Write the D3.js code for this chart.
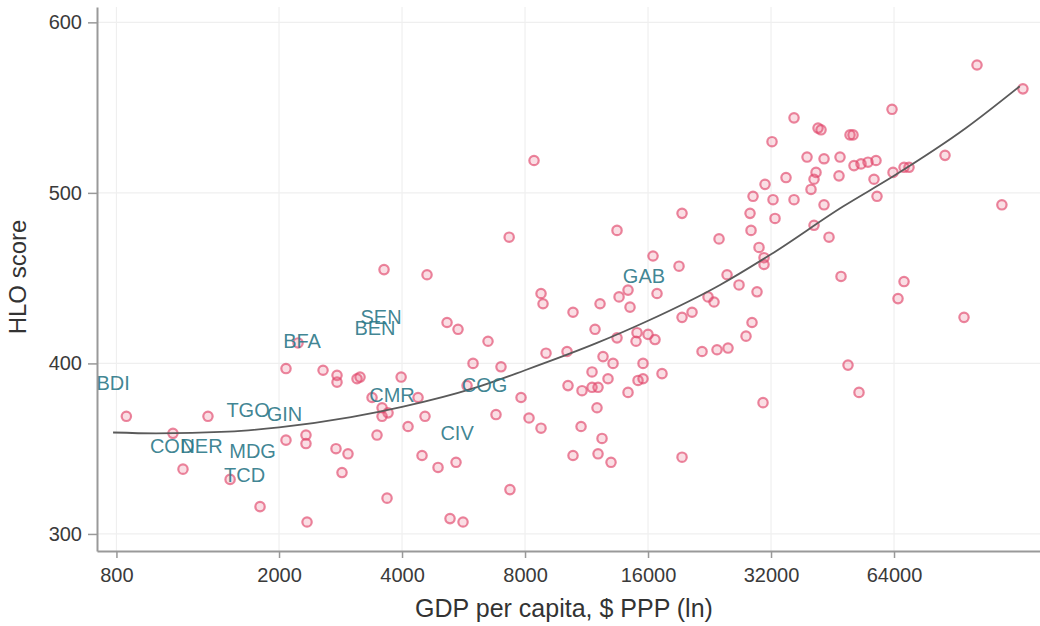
<!DOCTYPE html>
<html>
<head>
<meta charset="utf-8">
<script src="https://cdn.jsdelivr.net/npm/d3@7"></script>
<style>
body { margin: 0; background: #fff; }
text { font-family: "Liberation Sans", Arial, sans-serif; }
</style>
</head>
<body>
<div class="chart"></div>
<script>
var outerW = 1040,
	outerH = 626;

// plot region (note: "top" is taken by window.top)
var plotL = 97, plotR = 1040, plotT = 7, plotB = 551;

// GDP per capita ($ PPP) and HLO score, one entry per country
var gdp = [846, 1340, 1100, 1164, 1518, 1797, 2342, 2080, 2226, 2563,
	2773, 2773, 3104, 3157, 3980, 3378, 3574, 3697, 3574, 3474,
	4138, 4553, 4378, 2080, 2328, 2328, 2757, 2950, 2852, 3676,
	3614, 4477, 4900, 5423, 5242, 5641, 5155, 5484, 5968, 4605,
	8755, 8854, 10484, 12209, 13590, 14295, 14456, 16832, 11869, 13435,
	15038, 14954, 16000, 16643, 19380, 20504, 22436, 23208, 24976, 21694,
	23602, 25114, 6494, 6987, 9005, 10137, 12416, 13137, 11670, 12770,
	10193, 11030, 11670, 12072, 14295, 15555, 17313, 15123, 15555, 12002,
	7822, 6793, 8182, 8755, 10970, 12346, 10484, 12072, 12988, 19380,
	7348, 5770, 8416, 7316, 13435, 19380, 23873, 16457, 19055, 29908,
	30763, 30763, 26720, 29573, 28750, 27795, 30589, 47474, 67713, 65456,
	94948, 49383, 52538, 102160, 132340, 63281, 36428, 41707, 42418, 49944,
	50795, 32180, 39200, 43140, 47205, 51080, 53138, 55272, 57823, 63641,
	67713, 69646, 85310, 57173, 41237, 40772, 40089, 46940, 34822, 30936,
	28915, 32363, 36428, 43140, 58150, 117540, 28430, 32728, 28590, 40772,
	44370];

var hlo = [369, 369, 359, 338, 332, 316, 307, 397, 412, 396,
	393, 389, 391, 392, 392, 380, 374, 371, 369, 358,
	363, 369, 380, 355, 358, 353, 350, 347, 336, 321,
	455, 346, 339, 342, 309, 307, 424, 420, 400, 452,
	441, 435, 430, 435, 439, 443, 433, 441, 420, 415,
	418, 413, 417, 414, 427, 430, 439, 436, 452, 407,
	408, 409, 413, 398, 406, 407, 404, 400, 395, 391,
	387, 384, 386, 386, 383, 400, 394, 390, 391, 374,
	380, 370, 368, 362, 363, 356, 346, 347, 342, 345,
	326, 387, 519, 474, 478, 488, 473, 463, 457, 468,
	462, 458, 446, 442, 424, 416, 377, 451, 448, 438,
	427, 399, 383, 575, 561, 549, 544, 538, 537, 534,
	534, 530, 521, 520, 521, 516, 517, 518, 519, 512,
	515, 515, 522, 508, 512, 508, 502, 510, 509, 505,
	498, 496, 496, 493, 498, 493, 488, 485, 478, 481,
	474];

// labelled countries
var codes = ["BDI", "BFA", "SEN", "BEN", "CMR", "TGO", "GIN", "COD", "NER", "MDG", "TCD", "CIV", "COG", "GAB"];
var codeGdp = [785, 2277, 3554, 3435, 3781, 1680, 2063, 1095, 1292, 1723, 1647, 5454, 6370, 15640];
var codeHlo = [388.5, 413, 427, 421, 381.5, 372.7, 370.6, 351.3, 351.3, 348.4, 334.6, 359.2, 387.3, 451.5];

// quadratic fit line
var fitGdp = [785, 1000, 1500, 2000, 3000, 4000, 6000, 8000, 12000, 16000, 24000, 32000, 48000, 64000, 96000, 130000];
var fitHlo = [359.5, 359, 360, 362.5, 368.5, 374.5, 385.5, 396, 412, 425, 446, 464, 492, 510, 538, 562.5];

var xTicks = [800, 2000, 4000, 8000, 16000, 32000, 64000];
var yTicks = [300, 400, 500, 600];

var svg = d3.select(".chart")
	.append("svg")
	.attr("width", outerW)
	.attr("height", outerH);

var x = d3.scaleLog()
	.domain([717, 145700])
	.range([plotL, plotR]);

var y = d3.scaleLinear()
	.domain([290, 609])
	.range([plotB, plotT]);

// Grid
svg.append("g")
	.selectAll("line")
	.data(yTicks)
	.join("line")
	.attr("x1", plotL)
	.attr("x2", plotR)
	.attr("y1", d => y(d))
	.attr("y2", d => y(d))
	.attr("stroke", "#efefef")
	.attr("stroke-width", 1.2);

svg.append("g")
	.selectAll("line")
	.data(xTicks)
	.join("line")
	.attr("x1", d => x(d))
	.attr("x2", d => x(d))
	.attr("y1", plotT)
	.attr("y2", plotB)
	.attr("stroke", "#efefef")
	.attr("stroke-width", 1.2);

// Axes
var xAxis = svg.append("g")
	.attr("transform", "translate(0," + plotB + ")")
	.call(d3.axisBottom(x)
		.tickValues(xTicks)
		.tickFormat(d3.format("d"))
		.tickSizeInner(7)
		.tickSizeOuter(0)
		.tickPadding(10));

var yAxis = svg.append("g")
	.attr("transform", "translate(" + plotL + ",0)")
	.call(d3.axisLeft(y)
		.tickValues(yTicks)
		.tickSizeInner(9)
		.tickSizeOuter(0)
		.tickPadding(6));

[xAxis, yAxis].forEach(function(g) {
	g.select(".domain").attr("stroke", "#999").attr("stroke-width", 2);
	g.selectAll(".tick line").attr("stroke", "#999").attr("stroke-width", 1.5);
	g.selectAll(".tick text")
		.attr("fill", "#3a3a3a")
		.style("font-size", "20px")
		.style("font-family", "'Liberation Sans', Arial, sans-serif");
});

// Axis titles
svg.append("text")
	.attr("x", 564)
	.attr("y", 617)
	.attr("text-anchor", "middle")
	.attr("fill", "#333")
	.style("font-size", "25px")
	.text("GDP per capita, $ PPP (ln)");

svg.append("text")
	.attr("transform", "translate(26,277) rotate(-90)")
	.attr("text-anchor", "middle")
	.attr("fill", "#333")
	.style("font-size", "24px")
	.text("HLO score");

// Points
svg.append("g")
	.selectAll("circle")
	.data(d3.range(gdp.length))
	.join("circle")
	.attr("cx", i => x(gdp[i]))
	.attr("cy", i => y(hlo[i]))
	.attr("r", 4.7)
	.attr("fill", "#e8597a")
	.attr("fill-opacity", 0.2)
	.attr("stroke", "#e0456a")
	.attr("stroke-opacity", 0.65)
	.attr("stroke-width", 2.2);

// Fit line
var line = d3.line()
	.x(i => x(fitGdp[i]))
	.y(i => y(fitHlo[i]))
	.curve(d3.curveMonotoneX);

svg.append("path")
	.attr("d", line(d3.range(fitGdp.length)))
	.attr("fill", "none")
	.attr("stroke", "#5a5a5a")
	.attr("stroke-width", 1.8);

// Country labels
svg.append("g")
	.selectAll("text")
	.data(d3.range(codes.length))
	.join("text")
	.attr("x", i => x(codeGdp[i]))
	.attr("y", i => y(codeHlo[i]))
	.attr("dy", "0.35em")
	.attr("text-anchor", "middle")
	.attr("fill", "#2f7a8a")
	.attr("fill-opacity", 0.92)
	.style("font-size", "20px")
	.text(i => codes[i]);
</script>
</body>
</html>
